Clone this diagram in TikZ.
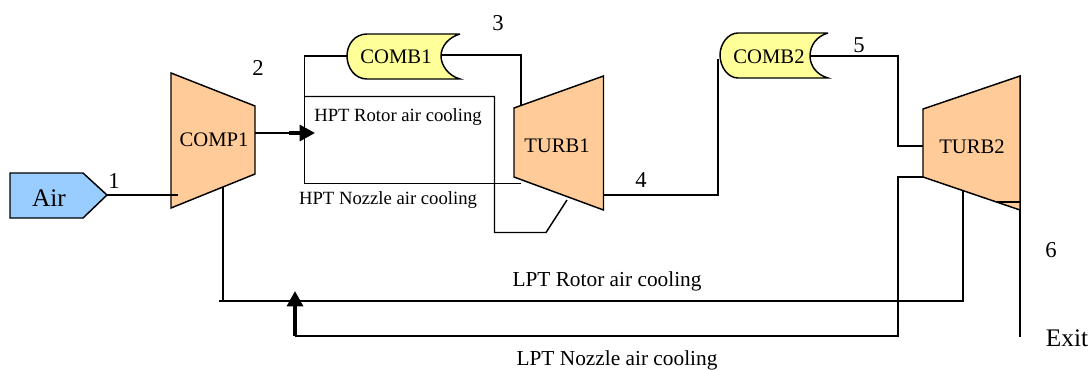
\documentclass[tikz,border=0pt]{standalone}
\usepackage{fontspec}
\usepackage{xcolor}
\usetikzlibrary{arrows.meta}
\setmainfont{Liberation Serif}
\definecolor{lightorange}{RGB}{255,204,153}
\definecolor{lightyellow}{RGB}{255,255,153}
\definecolor{airblue}{RGB}{153,204,255}
\tikzset{
  shapeline/.style={draw=black,line width=1.1pt,line join=miter},
  pipe/.style={line width=1.1pt},
  thickarrow/.style={line width=2.4pt,-{Triangle[length=11.5pt,width=12pt]}},
  unitlabel/.style={inner sep=0pt,font=\fontsize{15.5}{18}\selectfont},
  statelabel/.style={inner sep=0pt,font=\fontsize{17}{20}\selectfont},
  biglabel/.style={inner sep=0pt,font=\fontsize{19}{22}\selectfont},
  hptlabel/.style={inner sep=0pt,font=\fontsize{14}{16}\selectfont},
  lptlabel/.style={inner sep=0pt,font=\fontsize{16}{18}\selectfont}
}

\begin{document}
\begin{tikzpicture}[x=0.75pt,y=-0.75pt]
        \useasboundingbox (0,0) rectangle (1091,369);

        % free ends of the lines
        \coordinate (airout) at (107,195);
        \coordinate (compin) at (178,195);
        \coordinate (compout) at (255,133);
        \coordinate (hptarrow) at (289,133);
        \coordinate (hpttip) at (315,133);
        \coordinate (split) at (304.5,133);
        \coordinate (combin) at (304.5,56);
        \coordinate (comba) at (347,56);
        \coordinate (rotora) at (304.5,96.5);
        \coordinate (rotorb) at (494.5,96.5);
        \coordinate (rotorc) at (494.5,232.5);
        \coordinate (rotord) at (546,232.5);
        \coordinate (rotore) at (567,200);
        \coordinate (nozzlea) at (304.5,183.5);
        \coordinate (nozzleb) at (521,183.5);
        \coordinate (combout) at (442,55);
        \coordinate (combcorner) at (521,55);
        \coordinate (turbin) at (521,105);
        \coordinate (turbout) at (604,195);
        \coordinate (turbcorner) at (718,195);
        \coordinate (combbin) at (718,59);
        \coordinate (combbout) at (810,56);
        \coordinate (combbcorner) at (898,56);
        \coordinate (turbbcorner) at (898,146);
        \coordinate (turbbin) at (923,146);
        \coordinate (lptn) at (923,177);
        \coordinate (lptna) at (898,177);
        \coordinate (lptnb) at (898,336);
        \coordinate (lptnc) at (295,336);
        \coordinate (lpttip) at (295,291);
        \coordinate (bleed) at (223,187);
        \coordinate (bleeda) at (223,301);
        \coordinate (lptra) at (219,301);
        \coordinate (lptrb) at (963,301);
        \coordinate (lptrc) at (963,191);
        \coordinate (exita) at (1020,210);
        \coordinate (exitb) at (1020,337);

        % components
        \draw[shapeline,fill=airblue] (10,173) -- (83,173) -- (107,195) -- (83,218) -- (10,218) -- cycle;
        \draw[shapeline,fill=lightorange] (171,73) -- (255,106) -- (255,174) -- (171,208) -- cycle;
        \draw[shapeline,fill=lightorange] (514,108) -- (603.5,76) -- (603.5,210) -- (514,177) -- cycle;
        \draw[shapeline,fill=lightorange] (923,109) -- (1020,76) -- (1020,210) -- (923,177) -- cycle;
        \draw[pipe] (997,202) -- (1020,202);

        % combustors
        \draw[shapeline,fill=lightyellow] (460,34) -- (367,34) .. controls (355,34) and (347,44) .. (347,56)
            .. controls (347,68) and (355,79) .. (367,79) -- (460,79)
            .. controls (449,76) and (441,66) .. (441,56) .. controls (441,46) and (449,37) .. (460,34);
        \draw[shapeline,fill=lightyellow] (828,33) -- (738,33) .. controls (728,33) and (720,44) .. (720,55)
            .. controls (720,67) and (728,78) .. (738,78) -- (828,78)
            .. controls (817,75) and (810,66) .. (810,56) .. controls (810,45) and (817,36) .. (828,33);

        % lines
        \draw[pipe] (airout) -- (compin);
        \draw[pipe] (compout) -- (hptarrow);
        \draw[thickarrow] (hptarrow) -- (hpttip);
        \draw[pipe] (comba) -- (combin) -- (split) -- (nozzlea) -- (nozzleb);
        \draw[pipe] (rotora) -- (rotorb) -- (rotorc) -- (rotord) -- (rotore);
        \draw[pipe] (combout) -- (combcorner) -- (turbin);
        \draw[pipe] (turbout) -- (turbcorner) -- (combbin);
        \draw[pipe] (combbout) -- (combbcorner) -- (turbbcorner) -- (turbbin);
        \draw[pipe] (lptn) -- (lptna) -- (lptnb) -- (lptnc);
        \draw[thickarrow] (lptnc) -- (lpttip);
        \draw[pipe] (bleed) -- (bleeda);
        \draw[pipe] (lptra) -- (lptrb) -- (lptrc);
        \draw[pipe] (exita) -- (exitb);

        % labels
        \node[biglabel] (air) at (49,198) {Air};
        \node[unitlabel] (comp1) at (214,140) {COMP1};
        \node[unitlabel] (turb1) at (557,146) {TURB1};
        \node[unitlabel] (turb2) at (972,147) {TURB2};
        \node[unitlabel] (comb1) at (396,56.5) {COMB1};
        \node[unitlabel] (comb2) at (769,56.5) {COMB2};
        \node[statelabel] (st1) at (114,181) {1};
        \node[statelabel] (st2) at (258,68) {2};
        \node[statelabel] (st3) at (498,23) {3};
        \node[statelabel] (st4) at (641,180.5) {4};
        \node[statelabel] (st5) at (859,45) {5};
        \node[statelabel] (st6) at (1051,250) {6};
        \node[biglabel] (exit) at (1067,338) {Exit};
        \node[hptlabel] (hptrotor) at (398,117.5) {HPT Rotor air cooling};
        \node[hptlabel] (hptnozzle) at (388,200) {HPT Nozzle air cooling};
        \node[lptlabel] (lptrotor) at (607,281) {LPT Rotor air cooling};
        \node[lptlabel] (lptnozzle) at (617,360.5) {LPT Nozzle air cooling};
    \end{tikzpicture}
\end{document}
